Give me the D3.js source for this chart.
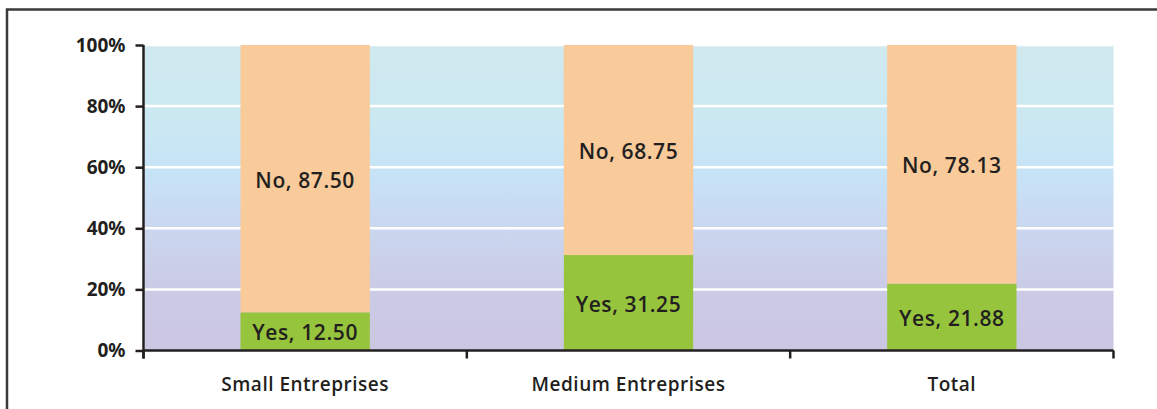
<!DOCTYPE html>
<html>
<head>
<meta charset="utf-8">
<script src="https://cdn.jsdelivr.net/npm/d3@7"></script>
<style>
  html, body { margin: 0; padding: 0; background: #ffffff; }
  svg { display: block; }
  text { font-family: "Open Sans", "Noto Sans", sans-serif; font-weight: 600; fill: #231f20; }
</style>
</head>
<body>
<svg id="chart" width="1157" height="409"></svg>
<script>
// Share of enterprises answering Yes / No, by enterprise size
const categories = ["Small Entreprises", "Medium Entreprises", "Total"];
const yesValues = [12.50, 31.25, 21.88];
const noValues = [87.50, 68.75, 78.13];
const seriesNames = ["Yes", "No"];
const yTicks = [0, 20, 40, 60, 80, 100];

const svg = d3.select("#chart");
const W = 1157, H = 409;
const plot = { left: 143.5, right: 1113.5, top: 45, bottom: 350.5 };
const ink = "#231f20";

// Frame: top and left edges only
svg.append("path")
  .attr("d", `M7,${H + 2} V9.5 H${W + 2}`)
  .attr("fill", "none")
  .attr("stroke", "#3a3a3a")
  .attr("stroke-width", 2.5);

const x = d3.scaleBand().domain(categories).range([plot.left, plot.right]).padding(0);
const y = d3.scaleLinear().domain([0, 100]).range([plot.bottom, plot.top]);

// Plot background gradient
const defs = svg.append("defs");
const grad = defs.append("linearGradient")
  .attr("id", "bg").attr("x1", 0).attr("y1", 0).attr("x2", 0).attr("y2", 1);
[[0, "#cfe9ef"], [0.25, "#cbe8f2"], [0.42, "#c6e3f7"], [0.62, "#cad5ee"], [0.8, "#cbcbe6"], [1, "#cbc6e2"]]
  .forEach(([o, c]) => grad.append("stop").attr("offset", o).attr("stop-color", c));

svg.append("rect")
  .attr("x", plot.left + 1).attr("y", plot.top)
  .attr("width", plot.right - plot.left - 1).attr("height", plot.bottom - plot.top)
  .attr("fill", "url(#bg)");

// White gridlines
svg.append("g").selectAll("line")
  .data(yTicks.filter(d => d > 0))
  .join("line")
  .attr("x1", plot.left).attr("x2", plot.right)
  .attr("y1", d => y(d)).attr("y2", d => y(d))
  .attr("stroke", "#ffffff").attr("stroke-width", 2.5);

// Stacked bars
const rows = categories.map((c, i) => ({ category: c, Yes: yesValues[i], No: noValues[i] }));
const stacked = d3.stack().keys(seriesNames)(rows);
const colors = { Yes: "#97c43d", No: "#f9ca9a" };
const barW = x.bandwidth() * 0.4;

const layers = svg.append("g").selectAll("g")
  .data(stacked)
  .join("g")
  .attr("fill", s => colors[s.key]);

layers.selectAll("rect")
  .data(s => s.map(d => ({ key: s.key, d })))
  .join("rect")
  .attr("x", o => x(o.d.data.category) + (x.bandwidth() - barW) / 2)
  .attr("width", barW)
  .attr("y", o => y(o.d[1]))
  .attr("height", o => y(o.d[0]) - y(o.d[1]));

// Data labels centred in each segment
layers.selectAll("text")
  .data(s => s.map(d => ({ key: s.key, d })))
  .join("text")
  .attr("x", o => x(o.d.data.category) + x.bandwidth() / 2)
  .attr("y", o => (y(o.d[0]) + y(o.d[1])) / 2 + 1)
  .attr("text-anchor", "middle")
  .attr("dominant-baseline", "central")
  .style("font-size", "21px")
  .style("letter-spacing", "0.6px")
  .text(o => `${o.key}, ${(o.d[1] - o.d[0]).toFixed(2)}`);

// Y axis
const yAxis = svg.append("g")
  .attr("transform", `translate(${plot.left},0)`)
  .call(d3.axisLeft(y).tickValues(yTicks).tickFormat(d => d + "%").tickSize(8).tickPadding(10));
yAxis.select(".domain").attr("d", `M0,${plot.top}V${plot.bottom + 8}`);

// X axis with ticks at category boundaries
const xAxis = svg.append("g")
  .attr("transform", `translate(0,${plot.bottom})`);
xAxis.append("line")
  .attr("x1", plot.left).attr("x2", plot.right)
  .attr("stroke", ink).attr("stroke-width", 2.5);
const boundaries = categories.map(c => x(c)).concat([x(categories[categories.length - 1]) + x.bandwidth()]);
xAxis.selectAll("line.tick")
  .data(boundaries)
  .join("line")
  .attr("class", "tick")
  .attr("x1", d => d).attr("x2", d => d)
  .attr("y1", 0).attr("y2", 8)
  .attr("stroke", ink).attr("stroke-width", 2.5);
xAxis.selectAll("text")
  .data(categories)
  .join("text")
  .attr("x", c => x(c) + x.bandwidth() / 2)
  .attr("y", 33)
  .attr("text-anchor", "middle")
  .attr("dominant-baseline", "central")
  .style("font-size", "19px")
  .style("letter-spacing", "0.5px")
  .text(c => c);

yAxis.selectAll(".domain, .tick line").attr("stroke", ink).attr("stroke-width", 2.5);
yAxis.selectAll(".tick text")
  .style("font-size", "19px")
  .style("font-family", "'Noto Sans', sans-serif")
  .style("font-weight", 700)
  .attr("fill", ink);
</script>
</body>
</html>
